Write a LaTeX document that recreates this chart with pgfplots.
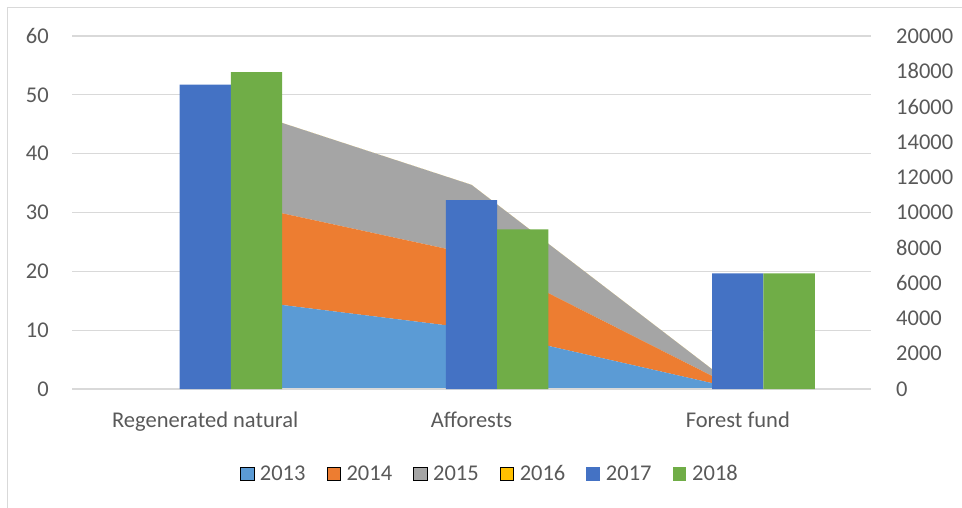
\documentclass[border=0pt]{standalone}
\usepackage{pgfplots}
\pgfplotsset{compat=1.18}
\usepackage{fontspec}
\setmainfont{Carlito}
\definecolor{c13}{HTML}{5B9BD5}
\definecolor{c14}{HTML}{ED7D31}
\definecolor{c15}{HTML}{A5A5A5}
\definecolor{c16}{HTML}{FFC000}
\definecolor{c17}{HTML}{4472C4}
\definecolor{c18}{HTML}{70AD47}
\definecolor{txt}{HTML}{595959}
\definecolor{grd}{HTML}{D9D9D9}
\begin{document}
\begin{tikzpicture}
\useasboundingbox (0pt,0pt) rectangle (962pt,-508pt);
\draw[grd, line width=1.3pt] (7.5pt,-512pt) -- (7.5pt,-7.5pt) -- (966pt,-7.5pt);
% Axis A: stacked areas on left scale
\begin{axis}[
  at={(72pt,-389pt)}, anchor=south west, scale only axis,
  width=799pt, height=353pt, xmin=-0.5, xmax=2.5,
  ymin=0, ymax=60, ytick={0,10,...,60},
  ymajorgrids, grid style={grd, line width=1.3pt},
  axis line style={draw=none}, major tick length=0pt,
  xtick={0,1,2}, xticklabels={Regenerated natural,Afforests,Forest fund},
  xtick pos=bottom, ytick pos=left,
  tick label style={font=\fontsize{22.5}{27}\selectfont, text=txt},
  /pgf/number format/assume math mode=true,
  xticklabel style={anchor=base, inner sep=0pt, yshift=-38pt},
  yticklabel style={anchor=east, inner sep=0pt, xshift=-23pt},
  stack plots=y,
]
\addplot[fill=c13, draw=none] coordinates {(0,15.9) (1,10.3) (2,0)} \closedcycle;
\addplot[fill=c14, draw=none] coordinates {(0,16.8) (1,12.6) (2,0)} \closedcycle;
\addplot[fill=c15, draw=none] coordinates {(0,16.8) (1,11.8) (2,0)} \closedcycle;
\addplot[fill=c16, draw=none] coordinates {(0,0) (1,0) (2,0)} \closedcycle;
\end{axis}
% Axis B: bars on right scale
\begin{axis}[
  at={(72pt,-389pt)}, anchor=south west, scale only axis,
  width=799pt, height=353pt, xmin=-0.5, xmax=2.5,
  ymin=0, ymax=20000, ytick={0,2000,...,20000},
  axis x line*=bottom, axis y line*=right,
  x axis line style={-, draw=grd, line width=1.3pt},
  y axis line style={draw=none},
  major tick length=0pt, xtick=\empty,
  scaled y ticks=false,
  /pgf/number format/assume math mode=true,
  /pgf/number format/1000 sep={},
  /pgf/number format/fixed,
  tick label style={font=\fontsize{22.5}{27}\selectfont, text=txt},
  yticklabel style={anchor=west, inner sep=0pt, xshift=25pt},
  legend image code/.code={\fill[#1] (0pt,-6.8pt) rectangle (13.6pt,6.8pt);},
  legend style={at={(0.523,-0.24)}, anchor=center, draw=none, fill=none,
    font=\fontsize{22.5}{27}\selectfont, text=txt,
    /tikz/every odd column/.append style={column sep=4pt},
    /tikz/every even column/.append style={column sep=19pt}},
  legend columns=6,
]
\addlegendimage{fill=c13}\addlegendentry{2013}
\addlegendimage{fill=c14}\addlegendentry{2014}
\addlegendimage{fill=c15}\addlegendentry{2015}
\addlegendimage{fill=c16}\addlegendentry{2016}
\addplot[ybar, bar width=0.1926, bar shift=0, fill=c17, draw=none] coordinates {(0,17250) (1,10700) (2,6550)};
\addlegendentry{2017}
\addplot[ybar, bar width=0.1926, bar shift=0.1926, fill=c18, draw=none] coordinates {(0,17950) (1,9050) (2,6550)};
\addlegendentry{2018}
\end{axis}
\end{tikzpicture}
\end{document}
